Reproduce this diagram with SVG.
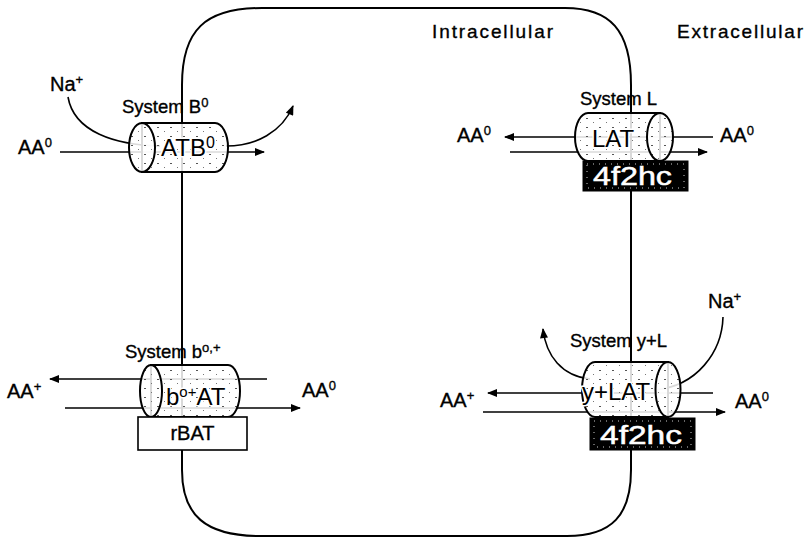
<svg xmlns="http://www.w3.org/2000/svg" width="806" height="539" viewBox="0 0 806 539">
<style>
text{font-family:"Liberation Sans",Arial,Helvetica,sans-serif;fill:#000;stroke:#000;stroke-width:0.35px}
.lbl{font-size:20px}
.sys{font-size:18.5px}
.reg{font-size:19px}
.tr{font-size:24px;stroke:#fff;stroke-width:3px;paint-order:stroke;stroke-linejoin:round}
.sub{font-size:26px;fill:#fff;stroke:#fff;stroke-width:0.5px}
.sup{font-size:13px}
.ln{fill:none;stroke:#000;stroke-width:1.6}
.mem{fill:none;stroke:#000;stroke-width:2}
.cyl{fill:url(#stip);stroke:#000;stroke-width:2}
.box{fill:#fff;stroke:#000;stroke-width:1.6}
.bbox{fill:#000;stroke:#000;stroke-width:1}
.dash{fill:none;stroke:#fff;stroke-width:0.8;stroke-dasharray:1 5}
</style>
<defs>
<marker id="ah" viewBox="0 0 10 8" refX="9" refY="4" markerWidth="11" markerHeight="8" orient="auto-start-reverse" markerUnits="userSpaceOnUse">
<path d="M0,0 L10,4 L0,8 Z" fill="#000"/>
</marker>
<pattern id="stip" width="13" height="9" patternUnits="userSpaceOnUse">
<rect width="13" height="9" fill="#fff" fill-opacity="0.85"/>
<rect x="1" y="1" width="2" height="1" fill="#555"/>
<rect x="8" y="5" width="1" height="1" fill="#777"/>
</pattern>
</defs>

<g id="connectors">
<path id="membrane" class="mem" d="M182,470 L182,85 C182,30 205,8 262,8 L565,8 C610,8 631,30 631,85 L631,470 C631,515 612,536 567,536 L260,536 C205,536 182,515 182,470 Z"/>
<line class="ln" x1="60" y1="152" x2="264" y2="152" marker-end="url(#ah)"/>
<path class="ln" d="M68,97 C74,132 115,145 160,146"/>
<path class="ln" d="M226,146 C256,146 282,132 293,106" marker-end="url(#ah)"/>
<line class="ln" x1="713" y1="137" x2="505" y2="137" marker-end="url(#ah)"/>
<line class="ln" x1="510" y1="152" x2="707" y2="152" marker-end="url(#ah)"/>
<line class="ln" x1="267" y1="379" x2="50" y2="379" marker-end="url(#ah)"/>
<line class="ln" x1="65" y1="408" x2="300" y2="408" marker-end="url(#ah)"/>
<line class="ln" x1="713" y1="393" x2="488" y2="393" marker-end="url(#ah)"/>
<line class="ln" x1="483" y1="412" x2="725" y2="412" marker-end="url(#ah)"/>
<path class="ln" d="M723,317 C722,352 697,386 655,390"/>
<path class="ln" d="M590,379 C562,376 546,356 543,329" marker-end="url(#ah)"/>
</g>

<g id="region-labels">
<text class="reg" x="432" y="38" textLength="121" lengthAdjust="spacing">Intracellular</text>
<text class="reg" x="677" y="38" textLength="126" lengthAdjust="spacing">Extracellular</text>
</g>

<g id="systemB0">
<path class="cyl" d="M142,123 L215,123 A13,24.5 0 0 1 215,172 L142,172 Z"/>
<ellipse class="cyl" cx="142" cy="147.5" rx="13" ry="24.5"/>
<text class="tr" x="161" y="156">ATB<tspan class="sup" dy="-8" style="font-size:16px">0</tspan></text>
<text class="sys" x="122" y="113">System B<tspan class="sup" dy="-6">0</tspan></text>
<text class="lbl" x="50" y="91">Na<tspan class="sup" dy="-7">+</tspan></text>
<text class="lbl" x="18" y="154">AA<tspan class="sup" dy="-7">0</tspan></text>
</g>

<g id="systemL">
<path class="cyl" d="M660,113 L588,113 A13,24 0 0 0 588,161 L660,161 Z"/>
<ellipse class="cyl" cx="660" cy="137" rx="13" ry="24"/>
<text class="tr" x="592" y="147">LAT</text>
<text class="sys" x="580" y="105">System L</text>
<text class="lbl" x="457" y="142">AA<tspan class="sup" dy="-7">0</tspan></text>
<text class="lbl" x="720" y="142">AA<tspan class="sup" dy="-7">0</tspan></text>
</g>

<g id="hc1">
<rect class="bbox" x="583" y="161" width="105" height="30"/>
<rect class="dash" x="587" y="164" width="97" height="24"/>
<text class="sub" x="593" y="185" textLength="79" lengthAdjust="spacingAndGlyphs">4f2hc</text>
</g>

<g id="systemb0">
<path class="cyl" d="M151,365 L228,365 A12,26 0 0 1 228,417 L151,417 Z"/>
<ellipse class="cyl" cx="151" cy="391" rx="11" ry="26"/>
<text class="tr" x="166" y="405">b<tspan class="sup" dy="-8" style="font-size:15px">o+</tspan><tspan dy="8">AT</tspan></text>
<text class="sys" x="125" y="358">System b<tspan class="sup" dy="-6">o,+</tspan></text>
<text class="lbl" x="7" y="398">AA<tspan class="sup" dy="-7">+</tspan></text>
<text class="lbl" x="302" y="397">AA<tspan class="sup" dy="-7">0</tspan></text>
</g>

<g id="rBAT">
<rect class="box" x="138" y="417" width="109" height="33"/>
<text class="lbl" x="192.5" y="440" text-anchor="middle">rBAT</text>
</g>

<g id="systemyL">
<path class="cyl" d="M668,362 L595,362 A13,27.5 0 0 0 595,417 L668,417 Z"/>
<ellipse class="cyl" cx="668" cy="389.5" rx="12.5" ry="27.5"/>
<text class="tr" x="582" y="400">y+LAT</text>
<text class="sys" x="570" y="347">System y+L</text>
<text class="lbl" x="708" y="308">Na<tspan class="sup" dy="-7">+</tspan></text>
<text class="lbl" x="440" y="407">AA<tspan class="sup" dy="-7">+</tspan></text>
<text class="lbl" x="735" y="408">AA<tspan class="sup" dy="-7">0</tspan></text>
</g>

<g id="hc2">
<rect class="bbox" x="590" y="418" width="105" height="32"/>
<rect class="dash" x="594" y="421" width="97" height="26"/>
<text class="sub" x="600" y="444" textLength="82" lengthAdjust="spacingAndGlyphs">4f2hc</text>
</g>
</svg>
